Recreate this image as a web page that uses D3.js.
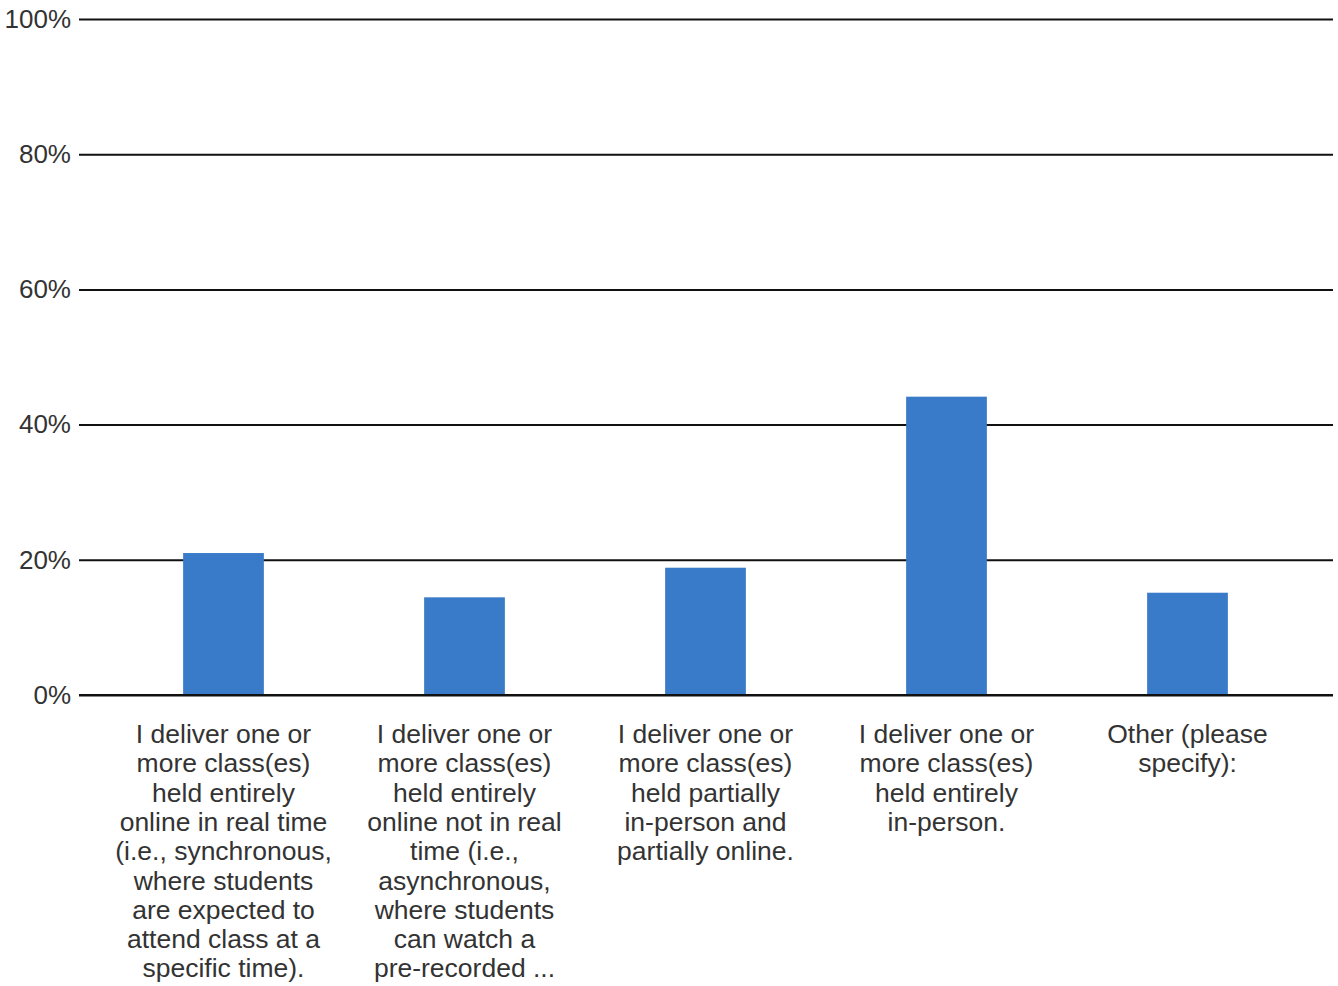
<!DOCTYPE html>
<html>
<head>
<meta charset="utf-8">
<script src="https://cdn.jsdelivr.net/npm/d3@7"></script>
<style>
  html, body { margin: 0; padding: 0; background: #fff; }
  svg { display: block; }
  text { font-family: "Liberation Sans", Arial, sans-serif; }
</style>
</head>
<body>
<script>
const categories = [
  "I deliver one or more class(es) held entirely online in real time (i.e., synchronous, where students are expected to attend class at a specific time).",
  "I deliver one or more class(es) held entirely online not in real time (i.e., asynchronous, where students can watch a pre-recorded ...",
  "I deliver one or more class(es) held partially in-person and partially online.",
  "I deliver one or more class(es) held entirely in-person.",
  "Other (please specify):"
];
const categoryLines = [
  ["I deliver one or", "more class(es)", "held entirely", "online in real time", "(i.e., synchronous,", "where students", "are expected to", "attend class at a", "specific time)."],
  ["I deliver one or", "more class(es)", "held entirely", "online not in real", "time (i.e.,", "asynchronous,", "where students", "can watch a", "pre-recorded ..."],
  ["I deliver one or", "more class(es)", "held partially", "in-person and", "partially online."],
  ["I deliver one or", "more class(es)", "held entirely", "in-person."],
  ["Other (please", "specify):"]
];
const values = [21.0, 14.45, 18.83, 44.13, 15.13];
const yTicks = [0, 20, 40, 60, 80, 100];

const W = 1338, H = 986;
const svg = d3.select("body").append("svg").attr("width", W).attr("height", H);

const x = d3.scaleBand().domain(categories).range([103, 1308]).paddingInner(0.665).paddingOuter(0.3325);
const y = d3.scaleLinear().domain([0, 100]).range([695, 19]);

// gridlines + y labels
const yAxis = d3.axisLeft(y).tickValues(yTicks).tickFormat(d => d + "%").tickSize(-(1333 - 79)).tickPadding(8);
const gy = svg.append("g").attr("transform", "translate(79,0)").call(yAxis);
gy.select(".domain").remove();
gy.selectAll(".tick line").attr("stroke", "#111").attr("stroke-width", 2);
gy.selectAll(".tick text").attr("font-size", 26).attr("fill", "#333").attr("font-family", "Liberation Sans, Arial, sans-serif");

// bars
svg.append("g").selectAll("rect").data(values).join("rect")
  .attr("x", (d, i) => x(categories[i]))
  .attr("width", x.bandwidth())
  .attr("y", d => y(d))
  .attr("height", d => y(0) - y(d))
  .attr("fill", "#397bc8");

// baseline redraw on top
svg.append("line").attr("x1", 79).attr("x2", 1333).attr("y1", y(0)).attr("y2", y(0))
  .attr("stroke", "#111").attr("stroke-width", 2);

// x labels
const lg = svg.append("g");
categories.forEach((c, i) => {
  const t = lg.append("text")
    .attr("x", x(c) + x.bandwidth() / 2)
    .attr("y", 743)
    .attr("text-anchor", "middle")
    .attr("font-size", 26.5)
    .attr("fill", "#333");
  categoryLines[i].forEach((line, j) => {
    t.append("tspan").attr("x", x(c) + x.bandwidth() / 2).attr("y", 743 + j * 29.3).text(line);
  });
});
</script>
</body>
</html>
